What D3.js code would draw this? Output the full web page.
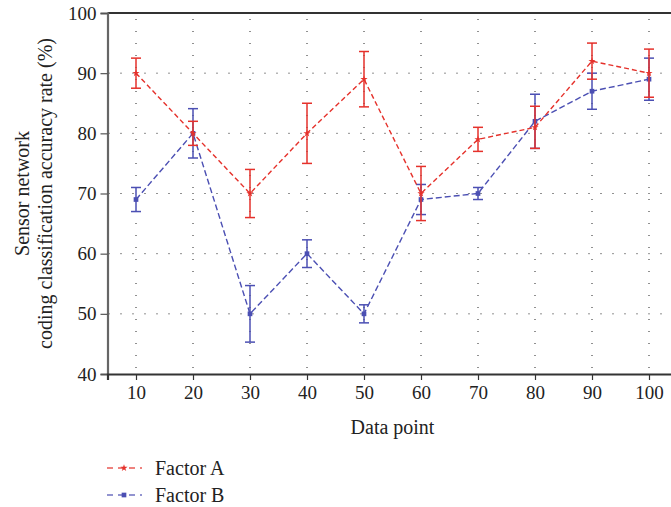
<!DOCTYPE html>
<html>
<head>
<meta charset="utf-8">
<script src="https://cdn.jsdelivr.net/npm/d3@7"></script>
<style>
  html, body { margin: 0; padding: 0; background: #fff; }
  svg text { font-family: "Liberation Serif", "Times New Roman", serif; fill: #222; }
</style>
</head>
<body>
<svg id="chart" width="671" height="507"></svg>
<script>
// Data points along the x axis
const dataPoints = [10, 20, 30, 40, 50, 60, 70, 80, 90, 100];

// Factor A: mean accuracy (%) and error half-width
const factorA    = [90, 80, 70, 80, 89, 70, 79, 81, 92, 90];
const factorAErr = [2.5, 2, 4, 5, 4.6, 4.5, 2, 3.5, 3, 4];

// Factor B: mean accuracy (%) and error half-width
const factorB    = [69, 80, 50, 60, 50, 69, 70, 82, 87, 89];
const factorBErr = [2, 4.1, 4.7, 2.3, 1.5, 2.5, 1, 4.5, 3, 3.5];

const yTicks = [40, 50, 60, 70, 80, 90, 100];
const xTicks = dataPoints;

const seriesNames = ["Factor A", "Factor B"];
const seriesColors = ["#e5312b", "#4b4fb3"];

const svg = d3.select("#chart");

const x = d3.scaleLinear().domain([5, 105]).range([107.5, 677.5]);
const y = d3.scaleLinear().domain([40, 100]).range([374, 13]);

// Dotted grid
const grid = svg.append("g");
grid.selectAll("line.v").data(xTicks).join("line")
  .attr("x1", d => x(d)).attr("x2", d => x(d))
  .attr("y1", y(40)).attr("y2", y(100))
  .attr("stroke", "#222").attr("stroke-width", 1)
  .attr("stroke-dasharray", "1,11").attr("stroke-dashoffset", -6);
grid.selectAll("line.h").data(yTicks.slice(1, -1)).join("line")
  .attr("x1", x(5)).attr("x2", 671)
  .attr("y1", d => y(d)).attr("y2", d => y(d))
  .attr("stroke", "#222").attr("stroke-width", 1)
  .attr("stroke-dasharray", "1,11").attr("stroke-dashoffset", -1);

// Frame: top border, left and bottom axes
svg.append("line")
  .attr("x1", x(5)).attr("x2", 671)
  .attr("y1", y(100)).attr("y2", y(100))
  .attr("stroke", "#333").attr("stroke-width", 2.2);

const yAxis = svg.append("g")
  .attr("transform", `translate(${x(5)},0)`)
  .call(d3.axisLeft(y).tickValues(yTicks).tickSize(7).tickPadding(4).tickFormat(d3.format("d")));
yAxis.select(".domain").attr("stroke", "#666").attr("stroke-width", 2.2);
yAxis.selectAll(".tick line").attr("stroke", "#555").attr("stroke-width", 1.2);
yAxis.selectAll(".tick text").attr("font-size", 19).attr("fill", "#222")
  .style("font-family", '"Liberation Serif", serif');

const xAxis = svg.append("g")
  .attr("transform", `translate(0,${y(40)})`)
  .call(d3.axisBottom(x).tickValues(xTicks).tickSize(6).tickPadding(6).tickFormat(d3.format("d")));
xAxis.select(".domain").attr("stroke", "#333").attr("stroke-width", 2.2);
xAxis.selectAll(".tick line").attr("stroke", "#333").attr("stroke-width", 1.2);
xAxis.selectAll(".tick text").attr("font-size", 19).attr("fill", "#222")
  .style("font-family", '"Liberation Serif", serif');

// Axis titles
svg.append("text")
  .attr("x", x(55)).attr("y", 434)
  .attr("text-anchor", "middle").attr("font-size", 20)
  .text("Data point");

const yTitle = svg.append("text")
  .attr("transform", `translate(0,${(y(40) + y(100)) / 2}) rotate(-90)`)
  .attr("text-anchor", "middle").attr("font-size", 20);
yTitle.append("tspan").attr("x", 0).attr("y", 29).text("Sensor network");
yTitle.append("tspan").attr("x", 0).attr("y", 52).text("coding classification accuracy rate (%)");

// Series drawing
const series = [
  { name: seriesNames[0], values: factorA, errs: factorAErr, color: seriesColors[0], dash: "5,3", symbol: d3.symbolStar, size: 16 },
  { name: seriesNames[1], values: factorB, errs: factorBErr, color: seriesColors[1], dash: "6,3", symbol: d3.symbolSquare, size: 22 }
];

const line = d3.line().x(d => x(d[0])).y(d => y(d[1]));

// Draw B first so A sits on top where they overlap
[series[1], series[0]].forEach(s => {
  const g = svg.append("g");
  const pts = dataPoints.map((d, i) => [d, s.values[i], s.errs[i]]);

  // error bars
  g.selectAll("line.err").data(pts).join("line")
    .attr("x1", d => x(d[0])).attr("x2", d => x(d[0]))
    .attr("y1", d => y(d[1] - d[2])).attr("y2", d => y(d[1] + d[2]))
    .attr("stroke", s.color).attr("stroke-width", 1.5);
  g.selectAll("line.capt").data(pts).join("line")
    .attr("x1", d => x(d[0]) - 5).attr("x2", d => x(d[0]) + 5)
    .attr("y1", d => y(d[1] + d[2])).attr("y2", d => y(d[1] + d[2]))
    .attr("stroke", s.color).attr("stroke-width", 1.5);
  g.selectAll("line.capb").data(pts).join("line")
    .attr("x1", d => x(d[0]) - 5).attr("x2", d => x(d[0]) + 5)
    .attr("y1", d => y(d[1] - d[2])).attr("y2", d => y(d[1] - d[2]))
    .attr("stroke", s.color).attr("stroke-width", 1.5);

  // dashed connecting line
  g.append("path").datum(pts)
    .attr("d", line)
    .attr("fill", "none").attr("stroke", s.color)
    .attr("stroke-width", 1.4).attr("stroke-dasharray", s.dash);

  // markers
  g.selectAll("path.m").data(pts).join("path")
    .attr("transform", d => `translate(${x(d[0])},${y(d[1])})`)
    .attr("d", d3.symbol().type(s.symbol).size(s.size))
    .attr("fill", s.color);
});

// Legend
const legend = svg.append("g");
series.forEach((s, i) => {
  const ly = 468 + i * 27;
  legend.append("line")
    .attr("x1", 107).attr("x2", 142).attr("y1", ly).attr("y2", ly)
    .attr("stroke", s.color).attr("stroke-width", 1.4).attr("stroke-dasharray", "6,5")
    .attr("opacity", 0.8);
  legend.append("path")
    .attr("transform", `translate(124,${ly})`)
    .attr("d", d3.symbol().type(s.symbol).size(s.size))
    .attr("fill", s.color);
  legend.append("text")
    .attr("x", 155).attr("y", ly + 6.5)
    .attr("font-size", 20)
    .text(s.name);
});
</script>
</body>
</html>
